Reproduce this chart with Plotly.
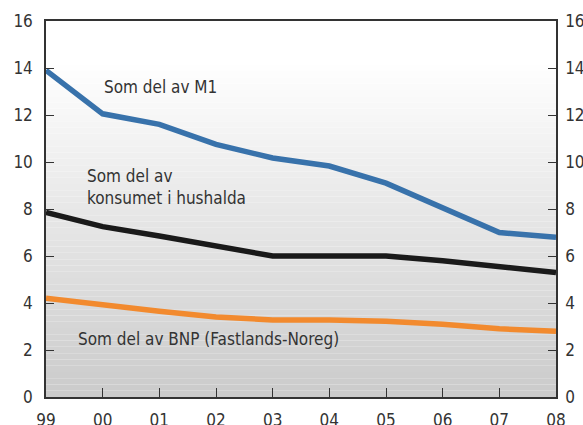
import plotly.graph_objects as go

years = ["99", "00", "01", "02", "03", "04", "05", "06", "07", "08"]
m1 = [13.9, 12.05, 11.6, 10.75, 10.17, 9.83, 9.1, 8.05, 7.0, 6.8]
konsum = [7.85, 7.25, 6.85, 6.4, 6.0, 6.0, 6.0, 5.8, 5.55, 5.3]
bnp = [4.2, 3.9, 3.65, 3.4, 3.28, 3.28, 3.22, 3.1, 2.9, 2.8]
yticks = [0, 2, 4, 6, 8, 10, 12, 14, 16]

FONT = "DejaVu Sans Condensed, DejaVu Sans, sans-serif"
x = list(range(len(years)))

fig = go.Figure()

# gradient background strips
n = 60
shapes = []
for i in range(n):
    t = i / n
    t2 = (i + 1) / n
    mid = (t + t2) / 2
    v = int(round(min(255, 203 + (255 - 203) * mid / 0.9)))
    shapes.append(dict(type="rect", xref="x domain", yref="y domain",
                       x0=0, x1=1, y0=t, y1=t2, fillcolor=f"rgb({v},{v},{v})",
                       line=dict(width=0), layer="below"))

fig.add_trace(go.Scatter(x=x, y=m1, mode="lines", line=dict(color="#3872ab", width=5.5), showlegend=False))
fig.add_trace(go.Scatter(x=x, y=konsum, mode="lines", line=dict(color="#1a1a1a", width=5.5), showlegend=False))
fig.add_trace(go.Scatter(x=x, y=bnp, mode="lines", line=dict(color="#f28a2e", width=5.5), showlegend=False))
fig.add_trace(go.Scatter(x=x, y=bnp, yaxis="y2", mode="lines", line=dict(width=0), hoverinfo="skip", showlegend=False, opacity=0))

tf = dict(family=FONT, size=17, color="#333333")

fig.update_layout(
    width=583, height=425,
    margin=dict(l=46, r=27, t=21, b=28),
    paper_bgcolor="white", plot_bgcolor="rgba(0,0,0,0)",
    font=tf,
    shapes=shapes,
    xaxis=dict(range=[0, 9], tickmode="array", tickvals=x, ticktext=years,
               ticks="inside", ticklen=9, tickcolor="#333333", tickwidth=1.3,
               showline=True, linecolor="#333333", linewidth=1.5, mirror=True,
               showgrid=False, zeroline=False, ticklabelstandoff=7, automargin=False,
               tickfont=tf),
    yaxis=dict(range=[0, 16], tickvals=yticks, ticks="inside", ticklen=8,
               tickcolor="#333333", tickwidth=1.3, showline=True, linecolor="#333333",
               linewidth=1.5, showgrid=False, zeroline=False, ticklabelstandoff=8,
               automargin=False, tickfont=tf),
    yaxis2=dict(range=[0, 16], tickvals=yticks, ticks="inside", ticklen=8,
                overlaying="y", side="right",
                tickcolor="#333333", tickwidth=1.3, showline=True, linecolor="#333333",
                linewidth=1.5, showgrid=False, zeroline=False, ticklabelstandoff=4,
                automargin=False, tickfont=tf),
    annotations=[
        dict(x=0.98, y=13.2, text="Som del av M1", showarrow=False, xanchor="left",
             yanchor="middle", font=tf),
        dict(x=0.69, y=8.94, text="Som del av<br>konsumet i hushalda", showarrow=False,
             xanchor="left", yanchor="middle", align="left", font=tf),
        dict(x=0.53, y=2.47, text="Som del av BNP (Fastlands-Noreg)", showarrow=False,
             xanchor="left", yanchor="middle", font=tf),
    ],
)

fig.write_html("out.html", config={"displayModeBar": False},
               post_script="document.body.style.margin='0';document.body.style.overflow='hidden';")
